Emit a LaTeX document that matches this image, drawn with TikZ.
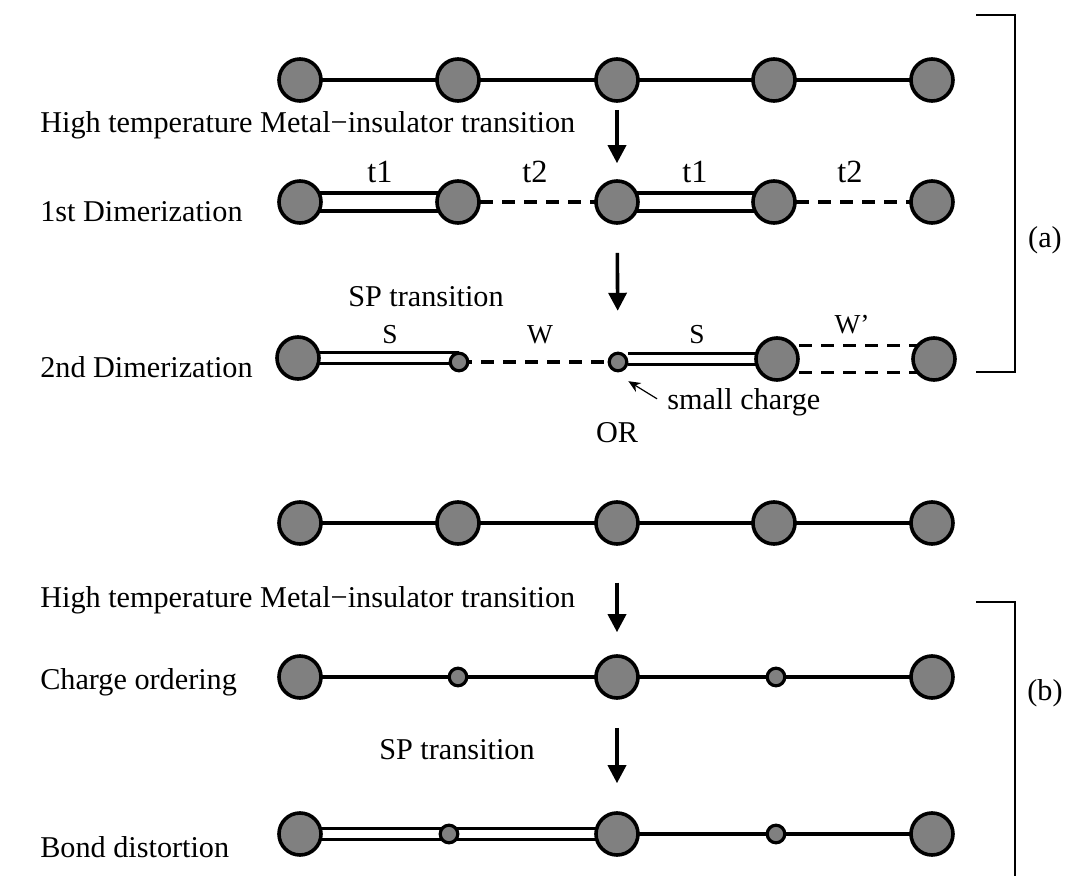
\documentclass[tikz,border=0pt]{standalone}
\usepackage{fontspec}
\setmainfont{Liberation Serif}
\usepackage{xcolor}
\usepackage{tikz}
\usetikzlibrary{arrows.meta,backgrounds,positioning}

\tikzset{
    site/.style={circle, draw=black, line width=0.9mm, fill=black!50, minimum size=10.5mm, inner sep=0pt},
    charge/.style={circle, draw=black, line width=0.8mm, fill=black!50, minimum size=4.4mm, inner sep=0pt},
    bond/.style={line width=0.8mm},
    weak/.style={line width=0.8mm, dash pattern=on 3.2mm off 2.3mm},
    tbond/.style={line width=0.9mm, double, double distance=3.6mm},
    sbond/.style={line width=0.75mm, double, double distance=2mm},
    down/.style={line width=0.9mm, -{Triangle[length=4.5mm, width=4.5mm]}},
    pointer/.style={line width=0.3mm, -{Stealth[length=3mm, width=2.6mm]}},
    txt/.style={font=\fontsize{21.5}{25}\selectfont, inner sep=0pt},
    hop/.style={font=\fontsize{23}{27}\selectfont, inner sep=0pt},
    lbl/.style={font=\fontsize{19.5}{23}\selectfont, inner sep=0pt},
    side/.style={line width=0.35mm}
}

\begin{document}
\begin{tikzpicture}[x=0.25mm, y=-0.25mm]
                \useasboundingbox (0,0) rectangle (1074,876);

                \node[site] (a1) at (300,80) {};
                \node[site] (a2) at (458,80) {};
                \node[site] (a3) at (617,80) {};
                \node[site] (a4) at (774,80) {};
                \node[site] (a5) at (932,80) {};

                \node[site] (b1) at (300,202) {};
                \node[site] (b2) at (458,202) {};
                \node[site] (b3) at (617,202) {};
                \node[site] (b4) at (774,202) {};
                \node[site] (b5) at (932,202) {};

                \node[site] (c1) at (298,358) {};
                \node[charge] (c2) at (459,362) {};
                \node[charge] (c3) at (618,362) {};
                \node[site] (c4) at (777,359) {};
                \node[site] (c5) at (934,359) {};

                \node[site] (d1) at (300,523) {};
                \node[site] (d2) at (458,523) {};
                \node[site] (d3) at (617,523) {};
                \node[site] (d4) at (774,523) {};
                \node[site] (d5) at (932,523) {};

                \node[site] (e1) at (300,677) {};
                \node[charge] (e2) at (458,677) {};
                \node[site] (e3) at (617,677) {};
                \node[charge] (e4) at (776,677) {};
                \node[site] (e5) at (932,677) {};

                \node[site] (f1) at (300,834) {};
                \node[charge] (f2) at (449,834) {};
                \node[site] (f3) at (617,834) {};
                \node[charge] (f4) at (776,834) {};
                \node[site] (f5) at (932,834) {};

                \begin{scope}[on background layer]
                    \draw[bond] (a1.center) -- (a2.center) -- (a3.center) -- (a4.center) -- (a5.center);

                    \draw[tbond] (b1.center) -- (b2.center);
                    \draw[weak] (b2.center) -- (b3.center);
                    \draw[tbond] (b3.center) -- (b4.center);
                    \draw[weak] (b4.center) -- (b5.center);

                    \draw[sbond] (c1.center) -- (c1 -| c2);
                    \draw[weak] (c2.center) -- (c3.center);
                    \draw[sbond] (c3.east |- c4) -- (c4.center);
                    \draw[weak] ([yshift=3.3mm]c4.center) -- ([yshift=3.3mm]c5.center);
                    \draw[weak] ([yshift=-3.3mm]c4.center) -- ([yshift=-3.3mm]c5.center);

                    \draw[bond] (d1.center) -- (d2.center) -- (d3.center) -- (d4.center) -- (d5.center);

                    \draw[bond] (e1.center) -- (e2.center) -- (e3.center) -- (e4.center) -- (e5.center);

                    \draw[sbond] (f1.center) -- (f2.center);
                    \draw[sbond] (f2.center) -- (f3.center);
                    \draw[bond] (f3.center) -- (f4.center) -- (f5.center);
                \end{scope}

                \node[hop] (t1a) at (380,172) {t1};
                \node[hop] (t2a) at (535,172) {t2};
                \node[hop] (t1b) at (695,172) {t1};
                \node[hop] (t2b) at (850,172) {t2};

                \node[lbl] (s1) at (390,335) {S};
                \node[lbl] (w1) at (540,335) {W};
                \node[lbl] (s2) at (697,335) {S};
                \node[lbl] (w2) at (852,325) {W'};

                \node[txt, anchor=west] (hta) at (40,125) {High temperature Metal−insulator transition};
                \node[txt, anchor=west] (dim1) at (40,212) {1st Dimerization};
                \node[txt] (spa) at (426,297) {SP transition};
                \node[txt, anchor=west] (dim2) at (40,367) {2nd Dimerization};
                \node[txt, anchor=west] (sc) at (667,402) {small charge};
                \node[txt] (or) at (617,433) {OR};
                \node[txt, anchor=west] (htb) at (40,600) {High temperature Metal−insulator transition};
                \node[txt, anchor=west] (co) at (40,682) {Charge ordering};
                \node[txt] (spb) at (457,750) {SP transition};
                \node[txt, anchor=west] (bd) at (40,847) {Bond distortion};

                \draw[down, shorten <=1.8mm, shorten >=4mm] (a3) -- (b3);
                \draw[down, shorten <=7mm, shorten >=10.2mm] (b3) -- (c3);
                \draw[down, shorten <=9.2mm, shorten >=5.5mm] (d3) -- (e3);
                \draw[down, shorten <=7mm, shorten >=7mm] (e3) -- (f3);
                \draw[pointer] ([xshift=-2.5mm, yshift=0.8mm]sc.west) -- ([xshift=2.6mm, yshift=-4.8mm]c3.center);

                \draw[
                    side
                ] (976,15) -- (1015,15) -- (1015,372) -- (976,372);
                \node[txt] (la) at (1045,240) {(a)};

                \draw[
                    side
                ] (976,602) -- (1015,602) -- (1015,876);
                \node[txt] (lb) at (1045,693) {(b)};

\end{tikzpicture}
\end{document}
